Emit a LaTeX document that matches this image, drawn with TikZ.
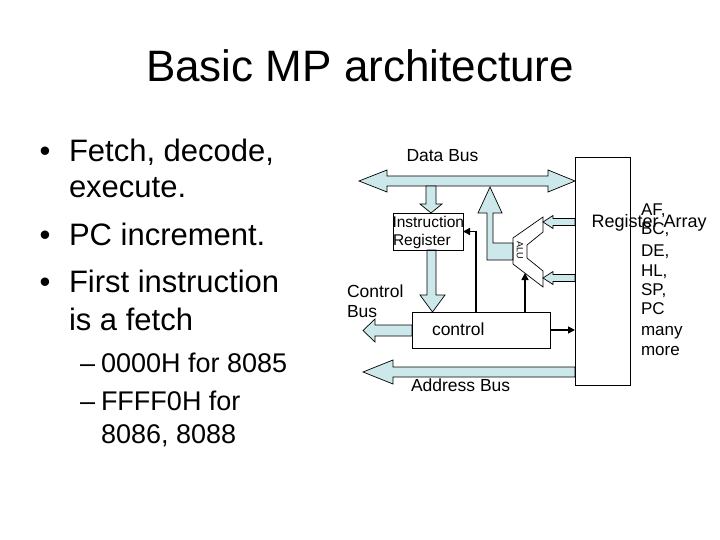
\documentclass[tikz,border=0pt]{standalone}
\usepackage{fontspec}
\setmainfont{Liberation Sans}
\usetikzlibrary{arrows.meta}
\definecolor{busfill}{RGB}{205,232,235}
\begin{document}
\begin{tikzpicture}[x=1pt,y=-1pt,
  txt/.style={inner sep=0pt,outer sep=0pt,anchor=base west},
  blk/.style={draw=black,line width=0.7pt,fill=busfill,line join=miter},
  box/.style={draw=black,line width=0.8pt,inner sep=0pt,outer sep=0pt,anchor=north west},
  thinarr/.style={line width=1.5pt,-{Triangle[length=7pt,width=7pt]}},
  bigf/.style={font=\fontsize{31}{36}\selectfont},
  subf/.style={font=\fontsize{27}{31}\selectfont},
  dgf/.style={font=\fontsize{17.5}{20}\selectfont},
  irf/.style={font=\fontsize{15.5}{18}\selectfont},
  regf/.style={font=\fontsize{17}{19}\selectfont}
  ]
\useasboundingbox (0,0) rectangle (720,540);
% title
\node[inner sep=0pt,anchor=base,font=\fontsize{44}{50}\selectfont] (title) at (360,82) {Basic MP architecture};
% bullets
\node[txt,bigf,anchor=base] (b1) at (45,162) {•};
\node[txt,bigf] (l1) at (69,162) {Fetch, decode,};
\node[txt,bigf] (l2) at (69,198) {execute.};
\node[txt,bigf,anchor=base] (b2) at (45,245) {•};
\node[txt,bigf] (l3) at (69,245) {PC increment.};
\node[txt,bigf,anchor=base] (b3) at (45,292) {•};
\node[txt,bigf] (l4) at (69,292) {First instruction};
\node[txt,bigf] (l5) at (69,330) {is a fetch};
\node[txt,subf] (d1) at (80,372) {–};
\node[txt,subf] (s1) at (101,372) {0000H for 8085};
\node[txt,subf] (d2) at (80,410) {–};
\node[txt,subf] (s2) at (101,410) {FFFF0H for};
\node[txt,subf] (s3) at (101,443) {8086, 8088};
% block arrows
\draw[blk] (359,181) -- (387,170) -- (387,176) -- (548,176) -- (548,170) -- (575,181)
  -- (548,192) -- (548,186) -- (387,186) -- (387,192) -- cycle;
\draw[blk] (426,186) -- (436,186) -- (436,204) -- (442,204) -- (431,213) -- (420,204) -- (426,204) -- cycle;
\draw[blk] (427,250) -- (436,250) -- (436,295) -- (445,295) -- (432.5,312) -- (420,295) -- (427,295) -- cycle;
\draw[blk] (490,187) -- (502,213) -- (493,213) -- (493,243) -- (513,243) -- (513,260) -- (487,260) -- (487,213) -- (478,213) -- cycle;
\draw[blk] (575,218.5) -- (553,218.5) -- (553,215.5) -- (543,222) -- (553,228.5) -- (553,225.5) -- (575,225.5) -- cycle;
\draw[blk] (575,274.5) -- (553,274.5) -- (553,271.5) -- (543,278) -- (553,284.5) -- (553,281.5) -- (575,281.5) -- cycle;
\draw[blk] (412,325) -- (375,325) -- (375,319) -- (363,330.5) -- (375,342) -- (375,336) -- (412,336) -- cycle;
\draw[blk] (575,367) -- (393,367) -- (393,360) -- (363,372) -- (393,384) -- (393,377) -- (575,377) -- cycle;
% ALU
\draw[line width=0.7pt,line join=miter] (513,238) -- (543,217) -- (543,232) -- (527,245) -- (527,258) -- (543,271) -- (543,287) -- (513,264) -- cycle;
\node[inner sep=0pt,rotate=-90,font=\fontsize{9}{9}\selectfont] (alut) at (520,250) {ALU};
\coordinate (alub) at (525,273);
% boxes
\node[box,minimum width=55pt,minimum height=228pt] (reg) at (575,157) {};
\node[box,minimum width=70pt,minimum height=37pt] (ir) at (393,213) {};
\node[box,minimum width=138pt,minimum height=36pt] (ctrl) at (412,312) {};
% diagram text
\node[txt,dgf] (dbus) at (406.5,162) {Data Bus};
\node[txt,irf] (ir1) at (392.5,227) {Instruction};
\node[txt,irf] (ir2) at (393,245) {Register};
\node[txt,dgf] (cb1) at (347,297) {Control};
\node[txt,dgf] (cb2) at (347,317) {Bus};
\node[txt,dgf] (ctl) at (432,335) {control};
\node[txt,dgf] (abus) at (411,391) {Address Bus};
\node[txt,font=\fontsize{18}{20}\selectfont] (ra) at (591.5,227) {Register Array};
\node[txt,regf] (r1) at (641,215) {AF,};
\node[txt,regf] (r2) at (641,235) {BC,};
\node[txt,regf] (r3) at (641,256) {DE,};
\node[txt,regf] (r4) at (641,276) {HL,};
\node[txt,regf] (r5) at (641,295) {SP,};
\node[txt,regf] (r6) at (641,314) {PC};
\node[txt,regf] (r7) at (641,335) {many};
\node[txt,regf] (r8) at (641,355) {more};
% thin arrows
\draw[thinarr] ([xshift=64pt]ctrl.north west) |- (ir.east);
\draw[thinarr] ([xshift=113pt]ctrl.north west) -- (alub);
\draw[thinarr] (ctrl.east) -- (ctrl.east -| reg.west);
\end{tikzpicture}
\end{document}
